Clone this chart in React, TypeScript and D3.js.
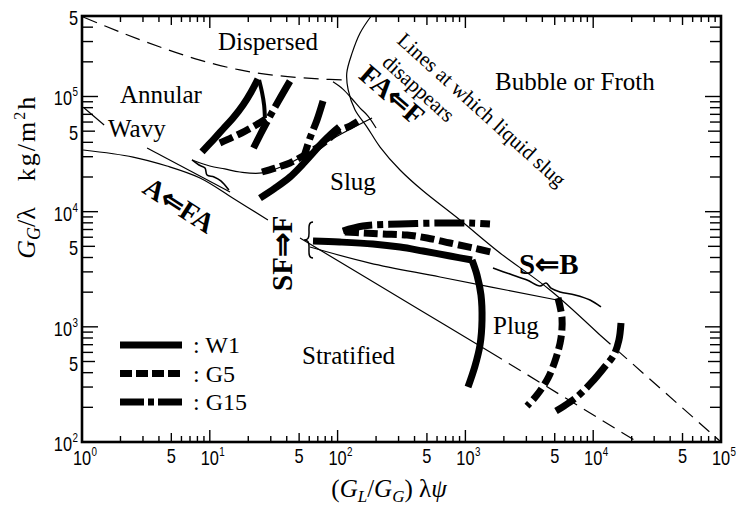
import React from 'react';
import * as d3 from 'd3';

type Pt = [number, number];

// axis labelling
const xDecades = [1, 10, 100, 1000, 10000, 100000];
const xDecadeExp = ['0', '1', '2', '3', '4', '5'];
const xFives = [5, 50, 500, 5000, 50000];
const yDecades = [100, 1000, 10000, 100000];
const yDecadeExp = ['2', '3', '4', '5'];
const yFives = [500, 5000, 50000, 500000];

// flow regime boundaries (thin lines)
const dispersedBoundary: Pt[] = [[1.02, 4.9e5], [1.98, 3.63e5], [4.08, 2.69e5], [8.38, 2.07e5], [17.2, 1.7e5], [35.4, 1.51e5], [72.8, 1.42e5], [116, 1.39e5]];
const bubbleBoundary: Pt[] = [[183, 5.0e5], [150, 3.56e5], [130, 2.39e5], [118, 1.6e5], [121, 1.14e5], [137, 7.63e4], [170, 5.43e4], [215, 3.64e4], [308, 2.3e4], [458, 1.54e4], [907, 8.46e3], [1865, 4.38e3], [4590, 2.09e3], [1.13e4, 849]];
const bubbleBoundaryExt: Pt[] = [[1.13e4, 849], [1e5, 100]];
const stratifiedUpper: Pt[] = [[1.02, 3.43e4], [2.51, 2.98e4], [4.62, 2.49e4], [8.38, 1.96e4], [15.2, 1.31e4], [28.5, 8.46e3]];
const stratifiedLower: Pt[] = [[50.8, 5.91e3], [441, 1.4e3], [1557, 605]];
const stratifiedExt: Pt[] = [[1557, 605], [2.16e4, 102]];
const slugPlug: Pt[] = [[60.8, 4.93e3], [179, 3.58e3], [633, 2.71e3], [5210, 1.71e3]];
const wavyLine: Pt[] = [[1.04, 7.94e4], [1.49, 5.66e4]];
const wavyAnnular: Pt[] = [[3.23, 3.57e4], [14.4, 1.48e4]];
const annularSlug: Pt[] = [[7.26, 2.81e4], [10.0, 2.49e4], [13.1, 2.35e4], [17.2, 2.21e4], [25.6, 2.17e4], [42.4, 2.65e4], [72.8, 3.72e4], [114, 4.92e4], [186, 6.51e4]];
const squiggleA: Pt[] = [[7.26, 2.81e4], [8.23, 2.54e4], [9.17, 2.39e4], [9.51, 2.08e4], [10.8, 2.0e4], [12.2, 1.85e4], [14.1, 1.54e4]];
const squiggleFA: Pt[] = [[92, 1.34e5], [110, 1.16e5], [130, 9.51e4], [150, 7.94e4], [173, 6.77e4], [200, 5.33e4]];
const squiggleSB: Pt[] = [[1644, 3.24e3], [2234, 2.87e3], [3034, 2.55e3], [3835, 2.26e3], [4272, 2.4e3], [4675, 2.17e3], [5499, 2.01e3], [7205, 1.89e3], [9441, 1.71e3], [1.15e4, 1.49e3]];
const bracePoint: Pt = [58.7, 5.68e3];

// measured transition curves
const w1Annular: Pt[] = [[8.69, 3.3e4], [10.6, 4.19e4], [12.7, 5.22e4], [15.2, 6.5e4], [18.2, 8.44e4], [21.0, 1.09e5], [23.8, 1.42e5]];
const w1AnnularBack: Pt[] = [[24.3, 1.39e5], [25.6, 1.09e5], [26.6, 8.44e4], [27.0, 6.5e4]];
const w1Slug: Pt[] = [[24.7, 1.31e4], [32.4, 1.6e4], [42.4, 2.0e4], [52.7, 2.54e4], [64.2, 3.23e4], [75.5, 3.95e4], [88.8, 4.72e4], [103, 5.43e4]];
const w1Strat: Pt[] = [[64.2, 5.56e3], [104, 5.45e3], [189, 5.24e3], [308, 4.93e3], [466, 4.55e3], [758, 4.12e3], [1126, 3.8e3]];
const w1Plug: Pt[] = [[1126, 3.8e3], [1232, 2.82e3], [1324, 1.89e3], [1349, 1.15e3], [1301, 695], [1189, 457], [1048, 300]];

const g5Annular: Pt[] = [[12.0, 3.95e4], [15.2, 4.45e4], [18.9, 5.01e4], [23.0, 5.66e4], [27.5, 6.38e4]];
const g5Slug: Pt[] = [[25.6, 2.21e4], [32.4, 2.39e4], [42.4, 2.65e4], [53.6, 3.04e4], [66.6, 3.5e4], [81.2, 4.11e4], [101, 5.01e4], [125, 5.54e4], [150, 6.25e4]];
const g5Strat: Pt[] = [[114, 6.66e3], [158, 6.53e3], [227, 6.4e3], [349, 6.27e3], [501, 5.91e3], [758, 5.34e3], [1147, 4.84e3], [1586, 4.46e3]];
const g5Plug: Pt[] = [[5304, 1.78e3], [5700, 1.19e3], [5598, 800], [5116, 536], [4430, 359], [3634, 256], [3034, 205]];

const g15Annular: Pt[] = [[42.4, 1.36e5], [34.8, 9.32e4], [28.5, 6.25e4], [25.2, 4.82e4], [21.4, 3.36e4]];
const g15Slug: Pt[] = [[76.9, 9.14e4], [69.0, 6.25e4], [60.8, 4.36e4], [53.6, 2.81e4]];
const g15Strat: Pt[] = [[110, 6.79e3], [158, 7.51e3], [308, 7.81e3], [633, 7.97e3], [1086, 7.97e3], [1557, 7.81e3]];
const g15Plug: Pt[] = [[1.65e4, 1.08e3], [1.59e4, 769], [1.45e4, 569], [1.21e4, 439], [9786, 332], [7603, 251], [5908, 205], [5116, 186]];

const seriesNames = ['W1', 'G5', 'G15'];
const seriesDash = ['', '14 5', '30 5 6 5'];
const legendDash = ['', '12 4', '24 4 6 4'];

const serif = "'Liberation Serif', 'Times New Roman', serif";
const narrow = "'Liberation Sans Narrow', 'Liberation Sans', Arial, sans-serif";

export default function App() {
  const width = 739, height = 510;
  const x = d3.scaleLog().domain([1, 1e5]).range([82, 721]);
  const y = d3.scaleLog().domain([100, 5e5]).range([442, 16]);

  const smooth = d3.line<Pt>().x(d => x(d[0])).y(d => y(d[1])).curve(d3.curveCatmullRom.alpha(0.5));
  const straight = d3.line<Pt>().x(d => x(d[0])).y(d => y(d[1]));

  // tick positions
  const xTicks: { v: number, kind: string }[] = [];
  xDecades.forEach((d, i) => {
    xTicks.push({ v: d, kind: 'major' });
    if (i < xDecades.length - 1) for (let k = 2; k <= 9; k++) xTicks.push({ v: k * d, kind: k === 5 ? 'five' : 'minor' });
  });
  const yTicks: { v: number, kind: string }[] = [];
  yDecades.forEach((d, i) => {
    yTicks.push({ v: d, kind: 'major' });
    const top = i < yDecades.length - 1 ? 9 : 5;
    for (let k = 2; k <= top; k++) yTicks.push({ v: k * d, kind: k === 5 ? 'five' : 'minor' });
  });
  const hLen = (k: string) => k === 'major' ? 12 : k === 'five' ? 9 : 6;
  const vLen = (k: string) => k === 'major' ? 16 : k === 'five' ? 13 : 11;

  const thin = { fill: 'none', stroke: '#000', strokeWidth: 1.2 };
  const thinDash = { ...thin, strokeDasharray: '14 8' };
  const thick = (i: number) => ({ fill: 'none', stroke: '#000', strokeWidth: 7, strokeDasharray: seriesDash[i] || undefined });

  const [bx, by] = [x(bracePoint[0]), y(bracePoint[1])];

  return (
    <svg width={width} height={height} style={{ position: 'absolute', left: 0, top: 0, background: '#fff' }}>
      {/* frame */}
      <rect x={82} y={16} width={639} height={426} fill="none" stroke="#000" strokeWidth={2.6} />
      {xTicks.map((t, i) => (
        <g key={'xt' + i}>
          <line x1={x(t.v)} x2={x(t.v)} y1={442} y2={442 - hLen(t.kind)} stroke="#000" strokeWidth={1.4} />
          <line x1={x(t.v)} x2={x(t.v)} y1={16} y2={16 + hLen(t.kind)} stroke="#000" strokeWidth={1.4} />
        </g>
      ))}
      {yTicks.map((t, i) => (
        <g key={'yt' + i}>
          <line x1={82} x2={82 + vLen(t.kind)} y1={y(t.v)} y2={y(t.v)} stroke="#000" strokeWidth={1.4} />
          <line x1={721} x2={721 - vLen(t.kind)} y1={y(t.v)} y2={y(t.v)} stroke="#000" strokeWidth={1.4} />
        </g>
      ))}
      {/* tick labels */}
      <g fontFamily={narrow} fontSize={20}>
        {xDecades.map((d, i) => (
          <g key={'xl' + i}>
            <text transform={`translate(${x(d)},465) scale(0.82,1)`} textAnchor="middle">10</text>
            <text transform={`translate(${x(d) + 9.5},456) scale(0.82,1)`} fontSize={12}>{xDecadeExp[i]}</text>
          </g>
        ))}
        {xFives.map((d, i) => <text key={'xf' + i} transform={`translate(${x(d)},463) scale(0.82,1)`} textAnchor="middle">5</text>)}
        {yDecades.map((d, i) => (
          <g key={'yl' + i}>
            <text transform={`translate(72,${y(d) + 9}) scale(0.82,1)`} textAnchor="end">10</text>
            <text transform={`translate(72.5,${y(d)}) scale(0.82,1)`} fontSize={12}>{yDecadeExp[i]}</text>
          </g>
        ))}
        {yFives.map((d, i) => <text key={'yf' + i} transform={`translate(78,${y(d) + 9}) scale(0.82,1)`} textAnchor="end">5</text>)}
      </g>

      {/* regime boundaries */}
      <path d={smooth(dispersedBoundary) || ''} {...thin} strokeDasharray="15 8" />
      <path d={smooth(bubbleBoundary) || ''} {...thin} />
      <path d={straight(bubbleBoundaryExt) || ''} {...thinDash} />
      <path d={smooth(stratifiedUpper) || ''} {...thin} />
      <path d={smooth(stratifiedLower) || ''} {...thin} />
      <path d={straight(stratifiedExt) || ''} {...thinDash} />
      <path d={smooth(slugPlug) || ''} {...thin} />
      <path d={straight(wavyLine) || ''} {...thin} />
      <path d={straight(wavyAnnular) || ''} {...thin} />
      <path d={smooth(annularSlug) || ''} {...thin} />
      <path d={smooth(squiggleA) || ''} {...thin} strokeWidth={1.6} />
      <path d={smooth(squiggleFA) || ''} {...thin} />
      <path d={smooth(squiggleSB) || ''} {...thin} strokeWidth={1.6} />
      <path d={`M${bx + 5},${by - 18} C${bx},${by - 18} ${bx + 1},${by - 12} ${bx + 1},${by - 7} C${bx + 1},${by - 2} ${bx},${by} ${bx - 4},${by} C${bx},${by} ${bx + 1},${by + 2} ${bx + 1},${by + 7} C${bx + 1},${by + 12} ${bx},${by + 18} ${bx + 5},${by + 18}`} {...thin} strokeWidth={1.5} />

      {/* W1 */}
      {[w1Annular, w1Slug, w1Strat, w1Plug].map((s, i) => <path key={'w' + i} d={smooth(s) || ''} {...thick(0)} />)}
      <path d={smooth(w1AnnularBack) || ''} fill="none" stroke="#000" strokeWidth={4} />
      {/* G5 */}
      {[g5Annular, g5Slug, g5Strat, g5Plug].map((s, i) => <path key={'g5' + i} d={smooth(s) || ''} {...thick(1)} />)}
      {/* G15 */}
      {[g15Annular, g15Slug, g15Strat, g15Plug].map((s, i) => <path key={'g15' + i} d={smooth(s) || ''} {...thick(2)} />)}

      {/* regime names */}
      <g fontFamily={serif} fontSize={25}>
        <text x={218} y={50}>Dispersed</text>
        <text x={120} y={103}>Annular</text>
        <text x={108} y={137}>Wavy</text>
        <text x={495} y={90}>Bubble or Froth</text>
        <text x={330} y={190}>Slug</text>
        <text x={493} y={334}>Plug</text>
        <text x={302} y={364}>Stratified</text>
      </g>
      <g fontFamily={serif} fontSize={21}>
        <text transform="translate(396,42) rotate(42)">Lines at which liquid slug</text>
        <text transform="translate(381,64) rotate(42)">disappears</text>
      </g>
      <g fontFamily={serif} fontSize={28} fontWeight="bold">
        <text transform="translate(386,102) rotate(41)" textAnchor="middle">FA⇐F</text>
        <text transform="translate(174,213) rotate(33)" textAnchor="middle">A⇐FA</text>
        <text transform="translate(292,291) rotate(-90)" fontSize={29}>SF⇒F</text>
        <text x={519} y={274} fontSize={29}>S⇐B</text>
      </g>

      {/* legend */}
      {seriesNames.map((n, i) => (
        <g key={'lg' + i}>
          <line x1={120} x2={182} y1={345 + i * 28.5} y2={345 + i * 28.5} stroke="#000" strokeWidth={7} strokeDasharray={legendDash[i] || undefined} />
          <text x={193} y={353 + i * 28.5} fontFamily={serif} fontSize={24}>: {n}</text>
        </g>
      ))}

      {/* axis titles */}
      <text x={389} y={497} textAnchor="middle" fontFamily={serif} fontSize={25}>
        (<tspan fontStyle="italic">G</tspan><tspan fontStyle="italic" fontSize={17} dy={5}>L</tspan><tspan dy={-5}>/</tspan><tspan fontStyle="italic">G</tspan><tspan fontStyle="italic" fontSize={17} dy={5}>G</tspan><tspan dy={-5}>)</tspan> λ<tspan fontStyle="italic">ψ</tspan>
      </text>
      <text transform="translate(35,233) rotate(-90)" textAnchor="middle" fontFamily={serif} fontSize={26}>
        <tspan fontStyle="italic">G</tspan><tspan fontStyle="italic" fontSize={18} dy={5}>G</tspan><tspan dy={-5}>/λ</tspan>
      </text>
      <text transform="translate(35,138) rotate(-90)" textAnchor="middle" fontFamily={serif} fontSize={26} letterSpacing={2}>
        kg/m<tspan fontSize={16} dy={-10}>2</tspan><tspan dy={10}>h</tspan>
      </text>
    </svg>
  );
}
